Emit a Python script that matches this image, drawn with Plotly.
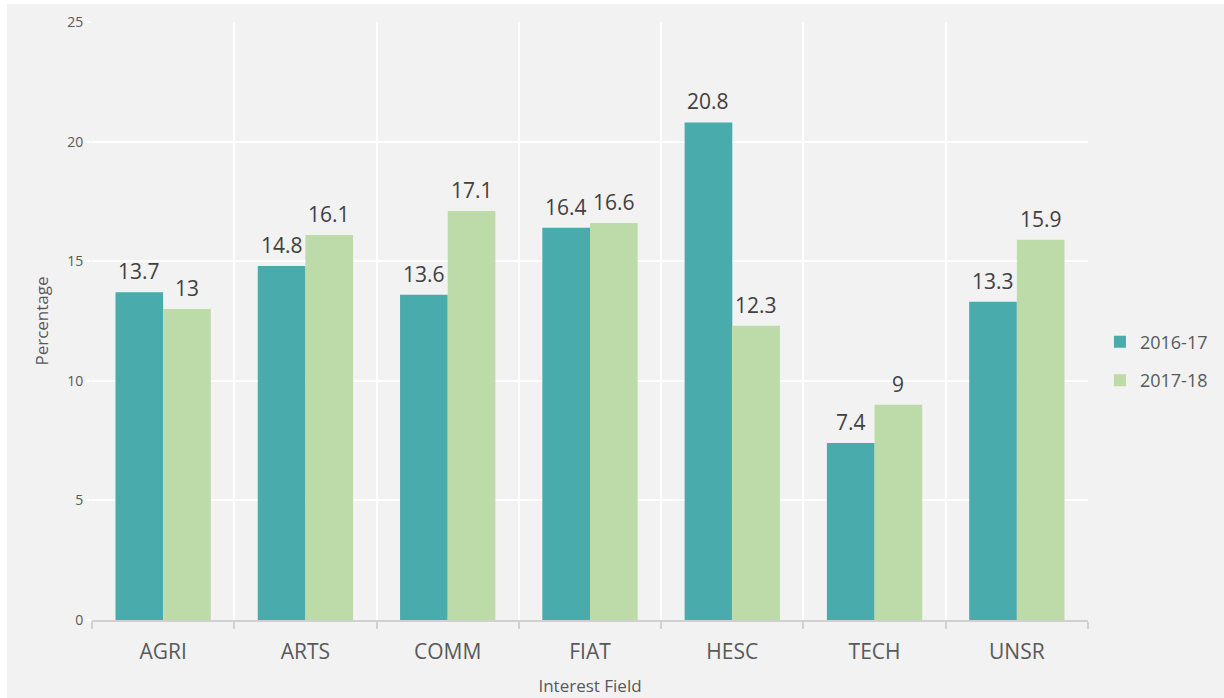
import plotly.graph_objects as go

# Share of students by interest field, two academic years
fields = ["AGRI", "ARTS", "COMM", "FIAT", "HESC", "TECH", "UNSR"]
years = ["2016-17", "2017-18"]
pct_2016_17 = [13.7, 14.8, 13.6, 16.4, 20.8, 7.4, 13.3]
pct_2017_18 = [13.0, 16.1, 17.1, 16.6, 12.3, 9.0, 15.9]

FONT = "Open Sans"
BG = "#f2f2f2"
COLORS = ["#4aabad", "#bddba8"]
BARGAP = 0.33

fig = go.Figure()
series = [pct_2016_17, pct_2017_18]
for k, (name, vals) in enumerate(zip(years, series)):
    fig.add_trace(go.Bar(
        name=name, x=fields, y=vals, legendgroup=name,
        marker=dict(color=COLORS[k], line=dict(width=0)),
    ))

# value labels above each bar, offset to the bar's slot within the group
slot = (1 - BARGAP) / len(series)
for k, vals in enumerate(series):
    off = -(1 - BARGAP) / 2 + slot * (k + 0.5)
    for i, v in enumerate(vals):
        fig.add_annotation(
            x=i + off, y=v, xref="x", yref="y",
            text=f"{v:g}", showarrow=False,
            yanchor="bottom", xanchor="center", yshift=5,
            font=dict(family=FONT, size=21, color="#404040"),
        )

# thin white frame on the top and left edges of the canvas
W, H, L, R, T, B = 1224, 698, 92, 136, 22, 78
pw, ph = W - L - R, H - T - B
fig.add_shape(type="rect", xref="paper", yref="paper",
              x0=-L / pw, x1=(7 - L) / pw, y0=-B / ph, y1=1 + T / ph,
              fillcolor="white", line=dict(width=0), layer="below")
fig.add_shape(type="rect", xref="paper", yref="paper",
              x0=-L / pw, x1=(W - L) / pw, y0=1 + (T - 4) / ph, y1=1 + T / ph,
              fillcolor="white", line=dict(width=0), layer="below")

fig.update_layout(
    width=W, height=H,
    margin=dict(l=L, r=R, t=T, b=B, autoexpand=False),
    paper_bgcolor=BG, plot_bgcolor=BG,
    barmode="group", bargap=BARGAP, bargroupgap=0.0,
    font=dict(family=FONT, color="#595959"),
    showlegend=True,
    legend=dict(x=1.012, y=0.433, xanchor="left", yanchor="middle",
                font=dict(family=FONT, size=18, color="#595959"),
                itemwidth=30, traceorder="grouped", tracegroupgap=12,
                bgcolor="rgba(0,0,0,0)"),
    xaxis=dict(
        title=dict(text="Interest Field", font=dict(size=17, color="#595959"), standoff=16),
        tickfont=dict(size=21, color="#595959"),
        tickson="boundaries", ticks="outside", ticklen=7, tickcolor="#d0d0d0",
        tickwidth=1.5, ticklabelstandoff=12,
        showgrid=True, gridcolor="white", gridwidth=2,
        showline=True, linecolor="#d0d0d0", linewidth=1.5,
        range=[-0.5, len(fields) - 0.5],
    ),
    yaxis=dict(
        title=dict(text="Percentage", font=dict(size=17, color="#595959"), standoff=14),
        tickfont=dict(size=14, color="#595959"),
        range=[0, 25], dtick=5, showgrid=True, gridcolor="white", gridwidth=2,
        zeroline=False, showline=False, ticks="outside", ticklen=5,
        tickcolor="white", tickwidth=2,
    ),
)

fig.write_html("out.html")
